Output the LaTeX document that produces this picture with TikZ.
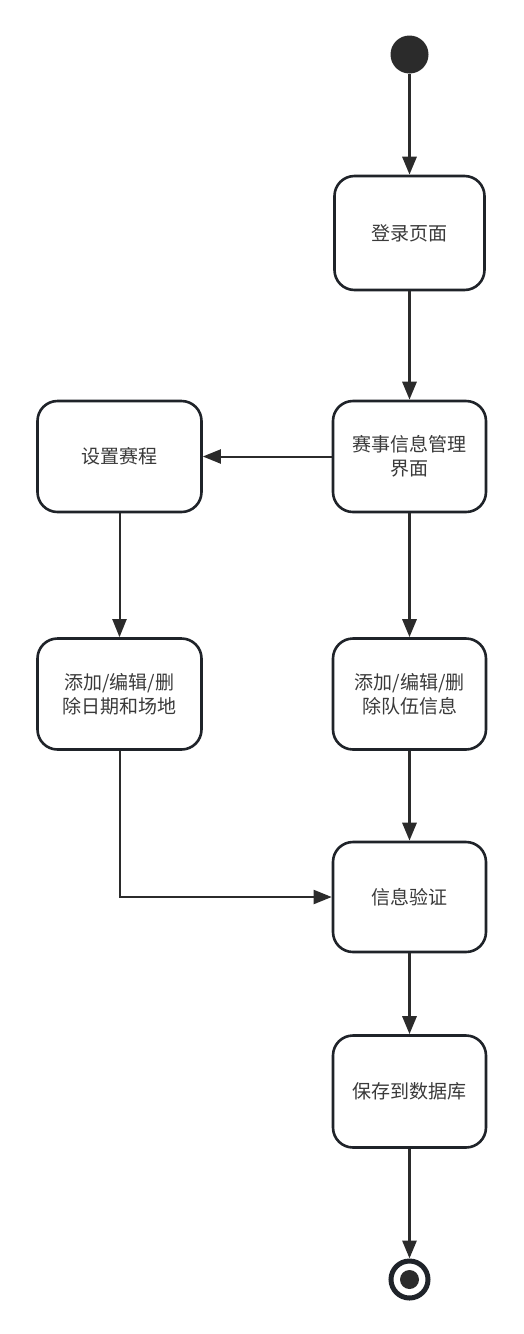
\documentclass[tikz,border=0pt]{standalone}
\usepackage{fontspec}
\newfontfamily\cjk{Noto Sans CJK SC}
\usetikzlibrary{arrows.meta}
\definecolor{edge}{HTML}{2B2B2B}
\definecolor{border}{HTML}{1F2329}
\definecolor{txt}{HTML}{3A3A3A}
\tikzset{
  state/.style={draw=border, line width=2.6pt, rounded corners=20pt, fill=white,
    align=center, text=txt, font=\cjk\fontsize{19}{24}\selectfont, inner sep=2pt},
  thickarrow/.style={edge, line width=3pt, -{Triangle[length=18pt,width=14pt]}},
  thinarrow/.style={edge, line width=2pt, -{Triangle[length=18pt,width=14pt]}},
}
\begin{document}
\begin{tikzpicture}[x=1pt,y=-1pt]
\useasboundingbox (0,0) rectangle (523,1334);
\node[circle, fill=edge, minimum size=38pt, inner sep=0pt] (start) at (409.5,54.5) {};
\node[state, minimum width=150pt, minimum height=114pt] (login) at (409.5,233) {登录页面};
\node[state, minimum width=153pt, minimum height=111pt] (manage) at (409.5,456.5) {赛事信息管理\\界面};
\node[state, minimum width=164pt, minimum height=111pt] (sched) at (119.5,456.5) {设置赛程};
\node[state, minimum width=164pt, minimum height=111pt] (dates) at (119.5,694) {添加/编辑/删\\除日期和场地};
\node[state, minimum width=153pt, minimum height=111pt] (teams) at (409.5,694) {添加/编辑/删\\除队伍信息};
\node[state, minimum width=153pt, minimum height=110pt] (verify) at (409.5,897) {信息验证};
\node[state, minimum width=153pt, minimum height=112pt] (save) at (409.5,1091.5) {保存到数据库};
\node[circle, draw=border, line width=5pt, minimum size=37pt, inner sep=0pt] (end) at (409.5,1279.5) {};
\fill[edge] (end.center) circle (9.5pt);

\draw[thickarrow] (start) -- (login);
\draw[thickarrow] (login) -- (manage);
\draw[thinarrow] (manage) -- (sched);
\draw[thinarrow] (sched) -- (dates);
\draw[thickarrow] (manage) -- (teams);
\draw[thickarrow] (teams) -- (verify);
\draw[thinarrow] (dates.south) |- (verify.west);
\draw[thickarrow] (verify) -- (save);
\draw[thickarrow] (save) -- (end.north);
\end{tikzpicture}
\end{document}
